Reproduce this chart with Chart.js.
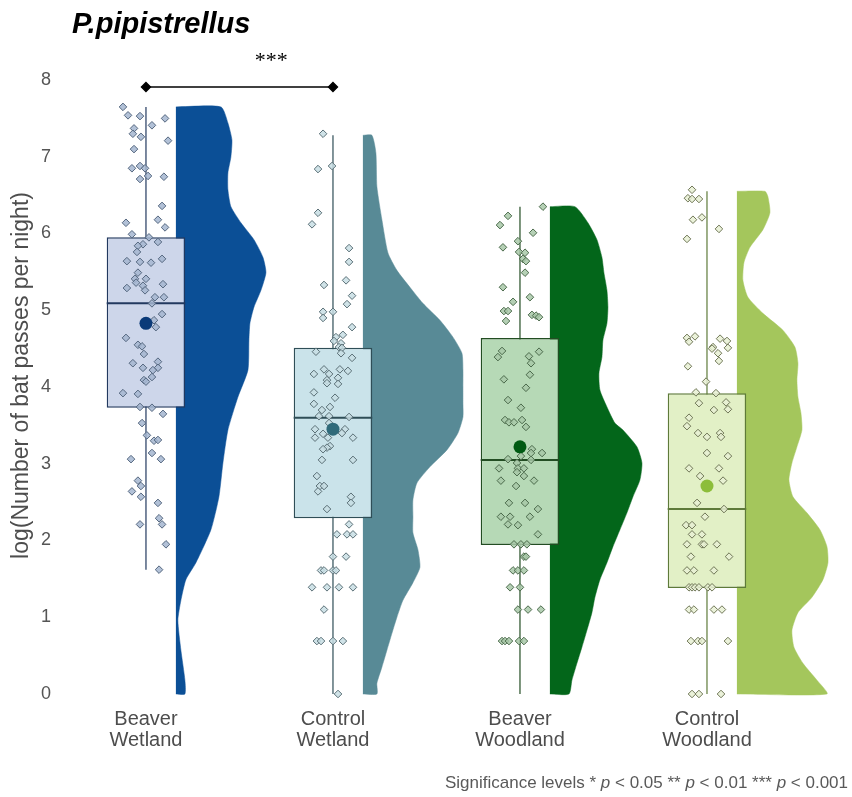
<!DOCTYPE html>
<html>
<head>
<meta charset="utf-8">
<script src="https://cdn.jsdelivr.net/npm/chart.js@4.4.1/dist/chart.umd.min.js"></script>
<style>
  html, body { margin: 0; padding: 0; background: #fff; }
  #wrap { width: 852px; height: 797px; position: relative; }
</style>
</head>
<body>
<div id="wrap"><canvas id="batChart"></canvas></div>
<script>
const chartTitle = 'P.pipistrellus';
const yTitle = 'log(Number of bat passes per night)';
const groups = ['Beaver Wetland', 'Control Wetland', 'Beaver Woodland', 'Control Woodland'];
const tickLabels = [['Beaver', 'Wetland'], ['Control', 'Wetland'], ['Beaver', 'Woodland'], ['Control', 'Woodland']];
const yTicks = [0, 1, 2, 3, 4, 5, 6, 7, 8];

// box plot summaries
const q1 = [3.73, 2.29, 1.94, 1.38];
const median = [5.09, 3.60, 3.05, 2.41];
const q3 = [5.95, 4.51, 4.64, 3.92];
const whiskerLow = [1.62, 0, 0, 0];
const whiskerHigh = [7.65, 7.28, 6.35, 6.55];
const means = [4.83, 3.45, 3.22, 2.71];

// half-violin density outlines (log passes, relative width)
const bwDensY = [0.00, 0.18, 0.57, 0.96, 1.22, 1.49, 1.71, 2.14, 2.57, 3.01, 3.44, 3.87, 4.22, 4.61, 4.83, 5.04, 5.26, 5.49, 5.69, 5.92, 6.14, 6.35, 6.57, 6.79, 7.00, 7.22, 7.44, 7.65];
const bwDensW = [0.09, 0.09, 0.05, 0.02, 0.05, 0.10, 0.20, 0.35, 0.43, 0.47, 0.52, 0.62, 0.72, 0.73, 0.74, 0.78, 0.85, 0.90, 0.87, 0.78, 0.65, 0.55, 0.52, 0.52, 0.55, 0.56, 0.52, 0.45];
const cwDensY = [0.00, 0.14, 0.35, 0.57, 0.79, 1.00, 1.22, 1.45, 1.65, 1.88, 2.10, 2.31, 2.53, 2.75, 2.96, 3.18, 3.40, 3.61, 3.79, 4.00, 4.22, 4.44, 4.65, 4.87, 5.09, 5.30, 5.52, 5.75, 6.18, 6.61, 7.05, 7.28];
const cwDensW = [0.14, 0.14, 0.19, 0.24, 0.29, 0.34, 0.40, 0.50, 0.57, 0.55, 0.50, 0.50, 0.50, 0.54, 0.67, 0.84, 0.95, 1.00, 1.00, 1.00, 1.00, 0.99, 0.90, 0.77, 0.60, 0.47, 0.34, 0.25, 0.19, 0.14, 0.13, 0.09];
const bwoDensY = [0.00, 0.18, 0.40, 0.61, 0.83, 1.06, 1.26, 1.49, 1.71, 1.92, 2.14, 2.36, 2.57, 2.79, 3.01, 3.22, 3.44, 3.53, 3.74, 3.96, 4.18, 4.39, 4.61, 4.83, 5.04, 5.26, 5.49, 5.69, 5.92, 6.14, 6.35];
const bwoDensW = [0.19, 0.22, 0.27, 0.32, 0.37, 0.42, 0.45, 0.50, 0.57, 0.63, 0.70, 0.77, 0.83, 0.90, 0.92, 0.87, 0.73, 0.65, 0.57, 0.50, 0.49, 0.52, 0.53, 0.57, 0.58, 0.57, 0.54, 0.52, 0.47, 0.38, 0.25];
const cwoDensY = [0.00, 0.18, 0.40, 0.61, 0.83, 1.06, 1.26, 1.49, 1.71, 1.92, 2.14, 2.36, 2.57, 2.79, 3.01, 3.22, 3.44, 3.66, 3.87, 4.09, 4.31, 4.52, 4.74, 4.96, 5.17, 5.39, 5.62, 5.82, 6.05, 6.27, 6.48, 6.55];
const cwoDensW = [0.90, 0.80, 0.66, 0.57, 0.55, 0.61, 0.75, 0.86, 0.91, 0.90, 0.83, 0.70, 0.56, 0.52, 0.55, 0.60, 0.65, 0.64, 0.61, 0.60, 0.61, 0.58, 0.46, 0.26, 0.11, 0.06, 0.07, 0.13, 0.26, 0.33, 0.31, 0.28];

// nightly values per site type, with their horizontal jitter
const bwPasses = [7.65, 7.54, 7.53, 7.50, 7.41, 7.37, 7.30, 7.26, 7.21, 7.10, 6.85, 6.88, 6.85, 6.71, 6.75, 6.74, 6.36, 6.18, 6.14, 6.08, 5.99, 5.95, 5.89, 5.86, 5.84, 5.76, 5.64, 5.63, 5.62, 5.67, 5.49, 5.41, 5.36, 5.41, 5.29, 5.32, 5.26, 5.34, 5.17, 5.17, 5.09, 4.95, 4.87, 4.78, 4.64, 4.55, 4.53, 4.43, 4.31, 4.33, 4.25, 4.25, 4.22, 4.13, 4.09, 4.07, 3.92, 3.91, 3.74, 3.73, 3.65, 3.53, 3.37, 3.30, 3.31, 3.14, 3.06, 3.06, 2.78, 2.71, 2.64, 2.57, 2.49, 2.29, 2.21, 2.21, 1.95, 1.62];
const bwJitter = [-0.123, -0.096, -0.032, 0.102, 0.032, -0.064, -0.070, -0.027, 0.118, -0.064, -0.075, -0.032, -0.005, -0.032, 0.011, 0.096, 0.086, 0.064, -0.107, 0.102, -0.075, 0.016, 0.064, -0.016, -0.043, -0.048, -0.102, -0.032, 0.027, 0.086, -0.043, -0.059, -0.053, 0, -0.102, -0.016, -0.005, 0.091, 0.048, 0.096, 0.032, 0.086, 0.043, 0.053, -0.107, -0.043, -0.021, -0.011, -0.070, 0.064, -0.016, 0.064, 0.037, 0.032, -0.011, 0, -0.123, -0.043, -0.032, 0.032, 0.091, -0.021, 0.005, 0.043, 0.064, 0.032, -0.080, 0.080, -0.043, -0.027, -0.075, -0.027, 0.064, 0.070, -0.032, 0.086, 0.107, 0.070];
const cwPasses = [7.30, 6.84, 6.88, 6.27, 6.12, 5.81, 5.63, 5.33, 5.39, 5.19, 5.08, 4.98, 4.90, 4.98, 4.78, 4.68, 4.65, 4.60, 4.57, 4.52, 4.51, 4.46, 4.44, 4.38, 4.23, 4.17, 4.23, 4.21, 4.17, 4.12, 4.09, 4.05, 4.04, 3.93, 3.86, 3.78, 3.74, 3.70, 3.62, 3.62, 3.61, 3.53, 3.45, 3.45, 3.40, 3.39, 3.34, 3.34, 3.34, 3.23, 3.21, 3.19, 3.05, 3.05, 2.84, 2.71, 2.71, 2.64, 2.57, 2.49, 2.41, 2.21, 2.08, 2.08, 2.08, 1.79, 1.79, 1.61, 1.61, 1.61, 1.61, 1.39, 1.39, 1.39, 1.39, 1.10, 0.69, 0.69, 0.69, 0.69, 0];
const cwJitter = [-0.053, -0.080, -0.005, -0.080, -0.112, 0.086, 0.086, -0.048, 0.070, 0.102, 0.075, -0.053, -0.053, 0, 0.102, 0.053, 0.016, 0.005, 0.043, 0.032, 0.048, -0.091, 0.043, 0.102, -0.048, -0.021, 0.037, 0.080, -0.102, 0.027, -0.032, -0.032, 0.027, -0.102, 0.011, -0.102, -0.016, -0.059, -0.075, -0.021, 0.086, -0.021, -0.096, 0.064, 0.048, -0.053, -0.096, -0.027, 0.107, -0.016, -0.032, -0.053, -0.059, 0.107, -0.086, -0.070, -0.048, -0.080, 0.096, 0.096, -0.032, 0.086, 0.021, 0.075, 0.107, 0, 0.070, -0.064, -0.048, 0, 0.016, -0.112, -0.032, 0.032, 0.107, -0.048, -0.086, -0.064, 0, 0.053, 0.027];
const bwoPasses = [6.35, 6.23, 6.11, 6.01, 5.90, 5.82, 5.76, 5.75, 5.67, 5.64, 5.49, 5.30, 5.17, 5.11, 4.99, 4.99, 4.86, 4.94, 4.93, 4.91, 4.47, 4.39, 4.40, 4.31, 4.46, 4.16, 4.10, 3.99, 3.83, 3.73, 3.57, 3.54, 3.54, 3.57, 3.48, 3.19, 3.14, 3.14, 3.10, 3.06, 3.05, 3.01, 2.94, 2.94, 2.94, 2.89, 2.84, 2.78, 2.78, 2.71, 2.49, 2.49, 2.41, 2.31, 2.31, 2.31, 2.21, 2.20, 2.08, 1.95, 1.95, 1.95, 1.79, 1.79, 1.61, 1.61, 1.61, 1.39, 1.39, 1.10, 1.10, 1.10, 0.69, 0.69, 0.69, 0.69, 0.69];
const bwoJitter = [0.123, -0.064, -0.107, 0.070, -0.011, -0.091, -0.005, 0.027, 0.016, 0.032, 0.027, -0.091, 0.053, -0.037, -0.086, -0.064, -0.075, 0.064, 0.086, 0.102, -0.096, -0.118, 0.048, 0.059, 0.102, 0.053, -0.086, 0.032, -0.064, 0.005, -0.080, -0.059, -0.032, 0.011, 0.032, 0.064, 0.059, 0.118, 0.005, -0.064, 0.059, -0.016, -0.112, -0.011, 0.021, -0.016, 0.021, -0.102, 0.075, -0.021, -0.059, 0.027, 0.096, -0.102, -0.053, 0.053, -0.064, -0.011, 0.096, -0.032, 0.005, 0.037, 0.021, 0.032, -0.037, -0.011, 0.021, -0.053, 0, -0.011, 0.043, 0.112, -0.096, -0.080, -0.059, -0.005, 0.021];
const cwoPasses = [6.57, 6.46, 6.45, 6.45, 6.18, 6.21, 6.06, 5.93, 4.64, 4.59, 4.66, 4.63, 4.60, 4.52, 4.50, 4.44, 4.51, 4.34, 4.27, 4.07, 3.93, 3.92, 3.79, 3.80, 3.70, 3.71, 3.60, 3.49, 3.40, 3.40, 3.35, 3.35, 3.14, 3.10, 2.94, 2.94, 2.84, 2.78, 2.49, 2.41, 2.31, 2.20, 2.20, 2.08, 2.08, 1.95, 1.95, 1.95, 1.95, 1.79, 1.79, 1.61, 1.61, 1.61, 1.39, 1.39, 1.39, 1.39, 1.39, 1.39, 1.10, 1.10, 1.10, 1.10, 0.69, 0.69, 0.69, 0.69, 0, 0, 0];
const cwoJitter = [-0.080, -0.102, -0.080, -0.043, -0.075, -0.027, 0.064, -0.107, -0.107, -0.096, -0.064, 0.070, 0.107, 0.032, 0.027, 0.059, 0.112, 0.064, -0.102, -0.005, -0.059, 0.048, -0.043, 0.102, 0.037, 0.112, -0.096, -0.107, -0.048, 0.070, 0, 0.075, 0, 0.112, -0.096, 0.064, -0.037, 0.086, -0.053, 0.091, -0.011, -0.112, -0.080, -0.080, -0.027, -0.107, -0.027, -0.016, 0.053, -0.086, 0.118, -0.107, -0.070, 0.037, -0.096, -0.080, -0.064, -0.043, 0.005, 0.027, -0.096, -0.070, 0.037, 0.080, -0.086, -0.048, -0.027, 0.112, -0.080, -0.043, 0.075];

// Beaver Wetland vs Control Wetland comparison
const sigPair = [1, 2];
const sigLevel = 7.91;
const sigLabel = '***';
const footnote = [['Significance levels * ', false], ['p', true], [' < 0.05 ** ', false], ['p', true], [' < 0.01 *** ', false], ['p', true], [' < 0.001', false]];

const densityY = [bwDensY, cwDensY, bwoDensY, cwoDensY];
const densityW = [bwDensW, cwDensW, bwoDensW, cwoDensW];
const passes = [bwPasses, cwPasses, bwoPasses, cwoPasses];
const jitter = [bwJitter, cwJitter, bwoJitter, cwoJitter];

const palette = [
  { slab: '#0b4f96', box: '#cdd6ea', edge: '#22395f', mean: '#0a3a78', dot: 'rgba(165,182,208,0.85)', dotEdge: '#55677f' },
  { slab: '#588a96', box: '#cae3ea', edge: '#2f4e57', mean: '#2f6a7a', dot: 'rgba(200,222,228,0.85)', dotEdge: '#5a6f76' },
  { slab: '#03661a', box: '#b6d9b6', edge: '#234d23', mean: '#005a12', dot: 'rgba(168,200,168,0.85)', dotEdge: '#4b6a4b' },
  { slab: '#a4c65c', box: '#e2f0c6', edge: '#5e7a3a', mean: '#8cbd3a', dot: 'rgba(232,240,212,0.85)', dotEdge: '#6f7656' }
];

const FONT = '"Liberation Sans", Arial, sans-serif';
const BOX_HALF = 0.21;     // half box width in x units
const SLAB_GAP = 0.16;     // density baseline offset from group centre
const SLAB_SCALE = 0.535;  // relative density width -> x units

Chart.defaults.font.family = FONT;

const datasets = [];
groups.forEach((name, i) => {
  const cx = i + 1;
  const base = cx + SLAB_GAP;
  const ys = densityY[i];
  const slab = [{ x: base, y: ys[0] }];
  ys.forEach((v, k) => slab.push({ x: base + densityW[i][k] * SLAB_SCALE, y: v }));
  slab.push({ x: base, y: ys[ys.length - 1] });

  datasets.push({
    type: 'line', label: name + ' density', data: slab, fill: 'shape',
    backgroundColor: palette[i].slab, borderColor: palette[i].slab, borderWidth: 0.5,
    pointRadius: 0, tension: 0.2, order: 6
  });
  datasets.push({
    type: 'line', label: name + ' whisker',
    data: [{ x: cx, y: whiskerLow[i] }, { x: cx, y: whiskerHigh[i] }],
    borderColor: palette[i].edge, borderWidth: 1.2, pointRadius: 0, fill: false, order: 5
  });
  datasets.push({
    type: 'line', label: name + ' median',
    data: [{ x: cx - BOX_HALF, y: median[i] }, { x: cx + BOX_HALF, y: median[i] }],
    borderColor: palette[i].edge, borderWidth: 2, pointRadius: 0, fill: false, order: 2
  });
  datasets.push({
    type: 'scatter', label: name,
    data: passes[i].map((v, k) => ({ x: cx + jitter[i][k], y: v })),
    pointStyle: 'rectRot', pointRadius: 3.8, pointBorderWidth: 1,
    pointBackgroundColor: palette[i].dot, pointBorderColor: palette[i].dotEdge, order: 1
  });
  datasets.push({
    type: 'scatter', label: name + ' mean', data: [{ x: cx, y: means[i] }],
    pointStyle: 'circle', pointRadius: 6.5, pointBorderWidth: 0,
    pointBackgroundColor: palette[i].mean, order: 0
  });
});

datasets.push({
  type: 'bar', label: 'IQR',
  data: groups.map((g, i) => ({ x: i + 1, y: [q1[i], q3[i]] })),
  backgroundColor: palette.map(p => p.box), borderColor: palette.map(p => p.edge),
  borderWidth: 1.5, borderSkipped: false, grouped: false,
  barPercentage: BOX_HALF * 2, categoryPercentage: 1, order: 4
});

datasets.push({
  type: 'line', label: 'comparison',
  data: sigPair.map(g => ({ x: g, y: sigLevel })),
  borderColor: '#000', borderWidth: 1.4, fill: false,
  pointStyle: 'rectRot', pointRadius: 4.5, pointBackgroundColor: '#000', pointBorderColor: '#000',
  clip: false, order: 0
});

// title, significance stars and footnote
const textPlugin = {
  id: 'plotText',
  afterDraw(chart) {
    const { ctx, scales: { x, y } } = chart;
    ctx.save();
    ctx.fillStyle = '#000';
    ctx.textBaseline = 'alphabetic';
    ctx.textAlign = 'left';
    ctx.font = 'italic bold 29px ' + FONT;
    ctx.fillText(chartTitle, 72, 33);

    ctx.font = '22px "Liberation Serif", serif';
    ctx.textAlign = 'center';
    ctx.textBaseline = 'middle';
    ctx.fillText(sigLabel, x.getPixelForValue(1.67), y.getPixelForValue(sigLevel) - 26);

    ctx.textAlign = 'left';
    ctx.textBaseline = 'alphabetic';
    ctx.fillStyle = '#595959';
    const setFont = it => { ctx.font = (it ? 'italic ' : '') + '17px ' + FONT; };
    let total = 0;
    footnote.forEach(([t, it]) => { setFont(it); total += ctx.measureText(t).width; });
    let fx = 848 - total;
    footnote.forEach(([t, it]) => { setFont(it); ctx.fillText(t, fx, 788); fx += ctx.measureText(t).width; });
    ctx.restore();
  }
};

new Chart(document.getElementById('batChart'), {
  type: 'scatter',
  data: { datasets },
  options: {
    responsive: true,
    maintainAspectRatio: false,
    animation: false,
    layout: { padding: { top: 45.5, right: 10, bottom: 41.5, left: 0 } },
    plugins: {
      legend: { display: false },
      tooltip: { enabled: false }
    },
    scales: {
      x: {
        type: 'linear', min: 0.567, max: 4.722, offset: false,
        grid: { display: false }, border: { display: false },
        afterBuildTicks: s => { s.ticks = groups.map((g, i) => ({ value: i + 1 })); },
        afterFit: s => { s.height = 50; },
        ticks: {
          font: { size: 20, lineHeight: 1.05 }, color: '#4d4d4d', padding: -5, maxRotation: 0, autoSkip: false,
          callback: (v, idx) => tickLabels[idx]
        }
      },
      y: {
        type: 'linear', min: -0.15, max: 8.45,
        grid: { display: false }, border: { display: false },
        afterBuildTicks: s => { s.ticks = yTicks.map(v => ({ value: v })); },
        afterFit: s => { s.width = 65; },
        ticks: { font: { size: 18 }, color: '#555555', padding: 6 },
        title: {
          display: true, text: yTitle, color: '#4d4d4d',
          font: { size: 23 }, padding: { top: 8, bottom: 0 }
        }
      }
    }
  },
  plugins: [textPlugin]
});
</script>
</body>
</html>
